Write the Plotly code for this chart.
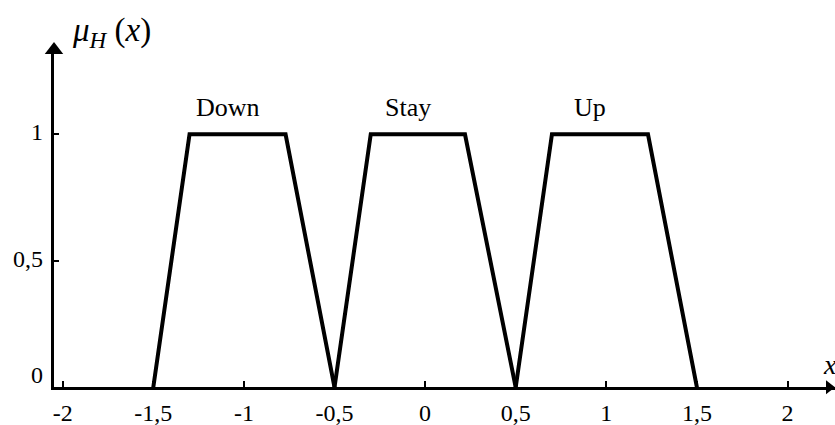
import plotly.graph_objects as go

# ---- data ----
terms = ["Down", "Stay", "Up"]
down_x = [-1.5, -1.3, -0.77, -0.5]
stay_x = [-0.5, -0.3, 0.22, 0.5]
up_x = [0.5, 0.7, 1.23, 1.5]
mu_y = [0, 1, 1, 0]
x_tickvals = [-2, -1.5, -1, -0.5, 0, 0.5, 1, 1.5, 2]
x_ticktext = ["-2", "-1,5", "-1", "-0,5", "0", "0,5", "1", "1,5", "2"]
y_tickvals = [0, 0.5, 1]
y_ticktext = ["0", "0,5", "1"]

W, H = 835, 425
FONT = "Liberation Serif, Times New Roman, serif"

x_lo, x_hi = -2.048, 2.262
y_lo, y_hi = 0.0, 1.333

fig = go.Figure()
for name, xs in zip(terms, [down_x, stay_x, up_x]):
    fig.add_trace(go.Scatter(x=xs, y=mu_y, mode="lines", name=name,
                             line=dict(color="black", width=4),
                             cliponaxis=False, showlegend=False,
                             hoverinfo="skip"))

# axis arrowheads
fig.add_trace(go.Scatter(x=[x_lo], y=[y_hi], mode="markers",
                         marker=dict(symbol="triangle-up", size=16, color="black"),
                         cliponaxis=False, showlegend=False, hoverinfo="skip"))
fig.add_trace(go.Scatter(x=[2.229], y=[0], mode="markers",
                         marker=dict(symbol="triangle-right", size=12, color="black"),
                         cliponaxis=False, showlegend=False, hoverinfo="skip"))

annotations = []
for name, xs in zip(terms, [down_x, stay_x, up_x]):
    annotations.append(dict(x=(xs[1] + xs[2]) / 2, y=1, xref="x", yref="y",
                            text=name, showarrow=False, xshift=-10, yshift=27,
                            font=dict(family=FONT, size=26, color="black")))
for v, t in zip(y_tickvals, y_ticktext):
    annotations.append(dict(x=x_lo, y=v, xref="x", yref="y", text=t,
                            showarrow=False, xanchor="right", xshift=-9,
                            yshift=12 if v == 0 else 2,
                            font=dict(family=FONT, size=24, color="black")))
annotations.append(dict(x=70 / W, y=1 - 32 / H, xref="paper", yref="paper",
                        xanchor="left", yanchor="middle", showarrow=False,
                        text="<i>μ</i><sub><i>H</i></sub> (<i>x</i>)",
                        font=dict(family=FONT, size=33, color="black")))
annotations.append(dict(x=821 / W, y=1 - 364 / H, xref="paper", yref="paper",
                        xanchor="left", yanchor="middle", showarrow=False,
                        text="<i>x</i>",
                        font=dict(family=FONT, size=28, color="black")))

fig.update_layout(
    width=W, height=H, margin=dict(l=0, r=0, t=0, b=0),
    paper_bgcolor="white", plot_bgcolor="white",
    annotations=annotations,
    xaxis=dict(domain=[54 / W, 1], range=[x_lo, x_hi], showgrid=False,
               zeroline=False, showline=True, linecolor="black", linewidth=3,
               ticks="inside", ticklen=6, tickwidth=2, tickcolor="black",
               tickvals=x_tickvals, ticktext=x_ticktext, ticklabelstandoff=2,
               tickfont=dict(family=FONT, size=24, color="black"),
               anchor="y", fixedrange=True),
    yaxis=dict(domain=[(H - 387.3) / H, (H - 50) / H], range=[y_lo, y_hi],
               showgrid=False, zeroline=False, showline=True, linecolor="black",
               linewidth=3, ticks="inside", ticklen=5, tickwidth=2,
               tickcolor="black", tickvals=[0.5, 1], showticklabels=False,
               anchor="x", fixedrange=True),
)

fig.write_html("out.html", config={"displayModeBar": False},
               post_script="document.body.style.margin='0';document.body.style.overflow='hidden';")
